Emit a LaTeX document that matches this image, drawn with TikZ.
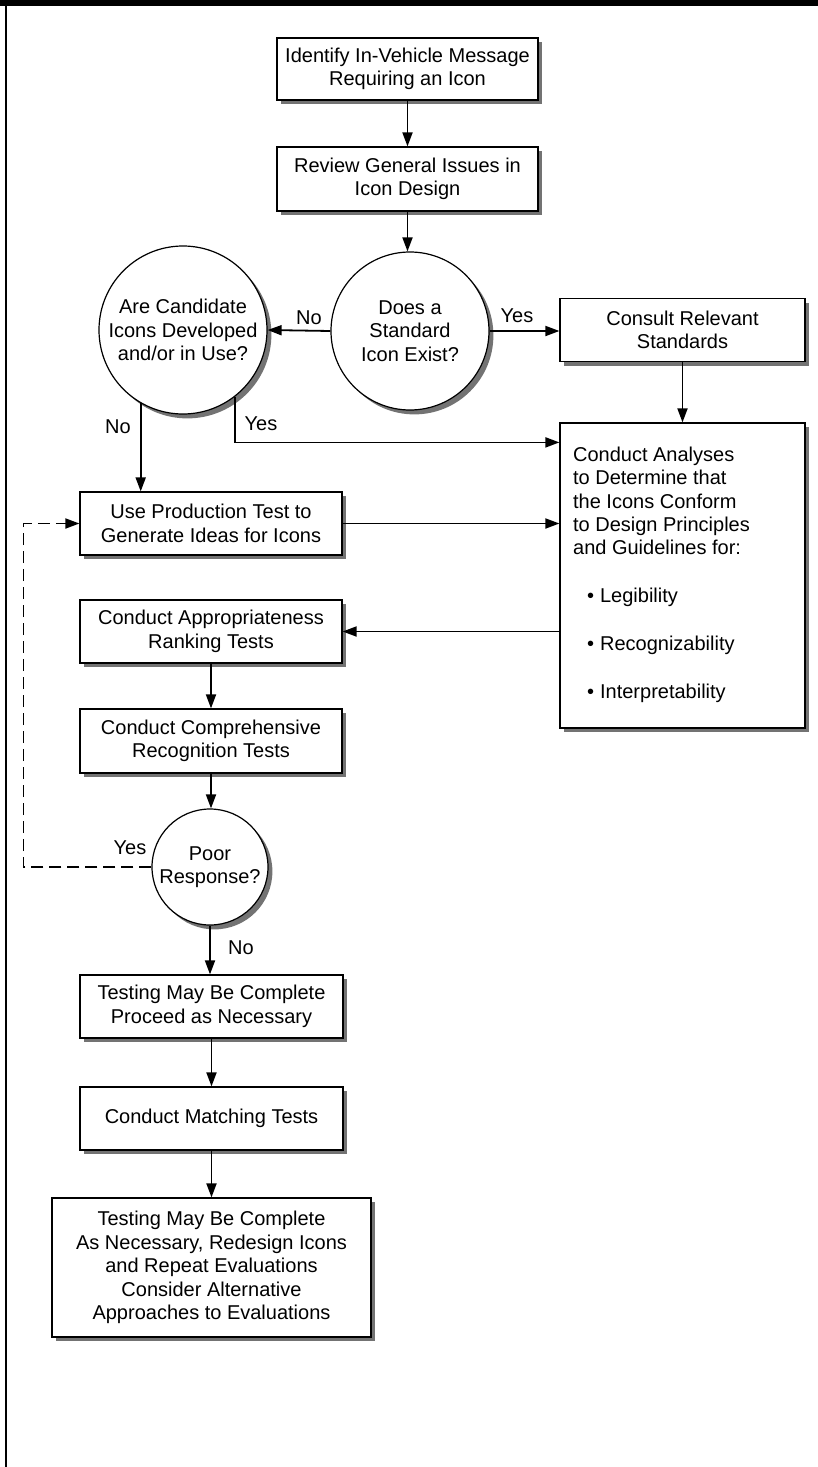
\documentclass[tikz,border=0pt]{standalone}
\usepackage{fontspec}
\setmainfont{Liberation Sans}
\usetikzlibrary{arrows.meta,shadows}

\tikzset{
  stepbox/.style={draw, line width=0.6pt, fill=white, align=center, inner sep=0pt,
    drop shadow={shadow xshift=2.2pt, shadow yshift=-2.2pt, fill=black!55, opacity=1}},
  decision/.style={circle, draw, line width=0.6pt, fill=white, align=center, inner sep=0pt,
    drop shadow={shadow xshift=2.2pt, shadow yshift=-2.2pt, fill=black!55, opacity=1}},
  flow/.style={line width=0.9pt, -{Triangle[length=7pt,width=5pt]}},
  answer/.style={inner sep=0pt}
}

\begin{document}
\begin{tikzpicture}[x=0.5pt, y=-0.5pt, font=\fontsize{10}{11.7}\selectfont]
            \useasboundingbox (0,0) rectangle (818,1467);
            % Frame
            \fill[black] (0,0) rectangle (818,6);
            \draw[line width=0.8pt] (6,0) -- (6,1467);

            % Top of the chart
            \node[stepbox, minimum width=130.5pt, minimum height=31pt] (identify) at (407.5,69) {Identify In-Vehicle Message\\Requiring an Icon};
            \node[stepbox, minimum width=130.5pt, minimum height=32pt] (review) at (407.5,179) {Review General Issues in\\Icon Design};
            \node[decision, minimum size=79pt] (standard) at (410,331) {Does a\\Standard\\Icon Exist?};
            \node[decision, minimum size=84pt] (candidate) at (183,330) {Are Candidate\\Icons Developed\\and/or in Use?};
            \node[stepbox, minimum width=122.5pt, minimum height=31.5pt] (consult) at (682.5,330) {Consult Relevant\\Standards};
            \node[stepbox, minimum width=122.5pt, minimum height=152.5pt] (analyses) at (682.5,575.5) {%
              \begin{tabular}{@{}l@{}}
              Conduct Analyses\\
              to Determine that\\
              the Icons Conform\\
              to Design Principles\\
              and Guidelines for:\\[12.3pt]
              \hspace*{7pt}\textbullet\hspace{3pt}Legibility\\[12.3pt]
              \hspace*{7pt}\textbullet\hspace{3pt}Recognizability\\[12.3pt]
              \hspace*{7pt}\textbullet\hspace{3pt}Interpretability
              \end{tabular}\hspace*{21pt}};

            % Left column
            \node[stepbox, minimum width=131pt, minimum height=31.5pt] (production) at (211,523.5) {Use Production Test to\\Generate Ideas for Icons};
            \node[stepbox, minimum width=131pt, minimum height=31.5pt] (ranking) at (211,631.5) {Conduct Appropriateness\\Ranking Tests};
            \node[stepbox, minimum width=131pt, minimum height=32pt] (recognition) at (211,741) {Conduct Comprehensive\\Recognition Tests};
            \node[decision, minimum size=58pt] (poor) at (210,867) {Poor\\Response?};
            \node[stepbox, minimum width=131.5pt, minimum height=31.5pt] (proceed) at (211.5,1006.5) {Testing May Be Complete\\Proceed as Necessary};
            \node[stepbox, minimum width=131.5pt, minimum height=31.5pt] (matching) at (211.5,1118.5) {Conduct Matching Tests};
            \node[stepbox, minimum width=159.5pt, minimum height=69.5pt] (complete) at (211.5,1267.5) {Testing May Be Complete\\As Necessary, Redesign Icons\\and Repeat Evaluations\\Consider Alternative\\Approaches to Evaluations};

            % Connectors
            \draw[flow] (identify) -- (review);
            \draw[flow] (review.south) -- (review.south |- standard.north);
            \draw[flow] (standard.west) -- (candidate.east);
            \draw[flow] (standard.east) -- (standard.east -| consult.west);
            \draw[flow] (consult) -- (consult.south |- analyses.north);
            \draw[flow] (candidate.240) -- (candidate.240 |- production.north);
            \draw[flow] (candidate.308) |- ([yshift=-10pt]analyses.north west);
            \draw[flow] (production.east) -- (production.east -| analyses.west);
            \draw[flow] (analyses.west |- ranking.east) -- (ranking.east);
            \draw[flow] (ranking) -- (recognition);
            \draw[flow] (recognition.south) -- (recognition.south |- poor.north);
            \draw[flow, dashed, dash pattern=on 6pt off 3pt] (poor.west) -- ++(-128,0) |- (production.west);
            \draw[flow] (poor.south) -- (poor.south |- proceed.north);
            \draw[flow] (proceed) -- (matching);
            \draw[flow] (matching) -- (complete);

            % Answers
            \node[answer] (no-1) at (309,318) {No};
            \node[answer] (yes-1) at (517,316) {Yes};
            \node[answer] (no-2) at (118,427) {No};
            \node[answer] (yes-2) at (261,424) {Yes};
            \node[answer] (yes-3) at (130,848) {Yes};
            \node[answer] (no-3) at (241,948) {No};
        \end{tikzpicture}
\end{document}
